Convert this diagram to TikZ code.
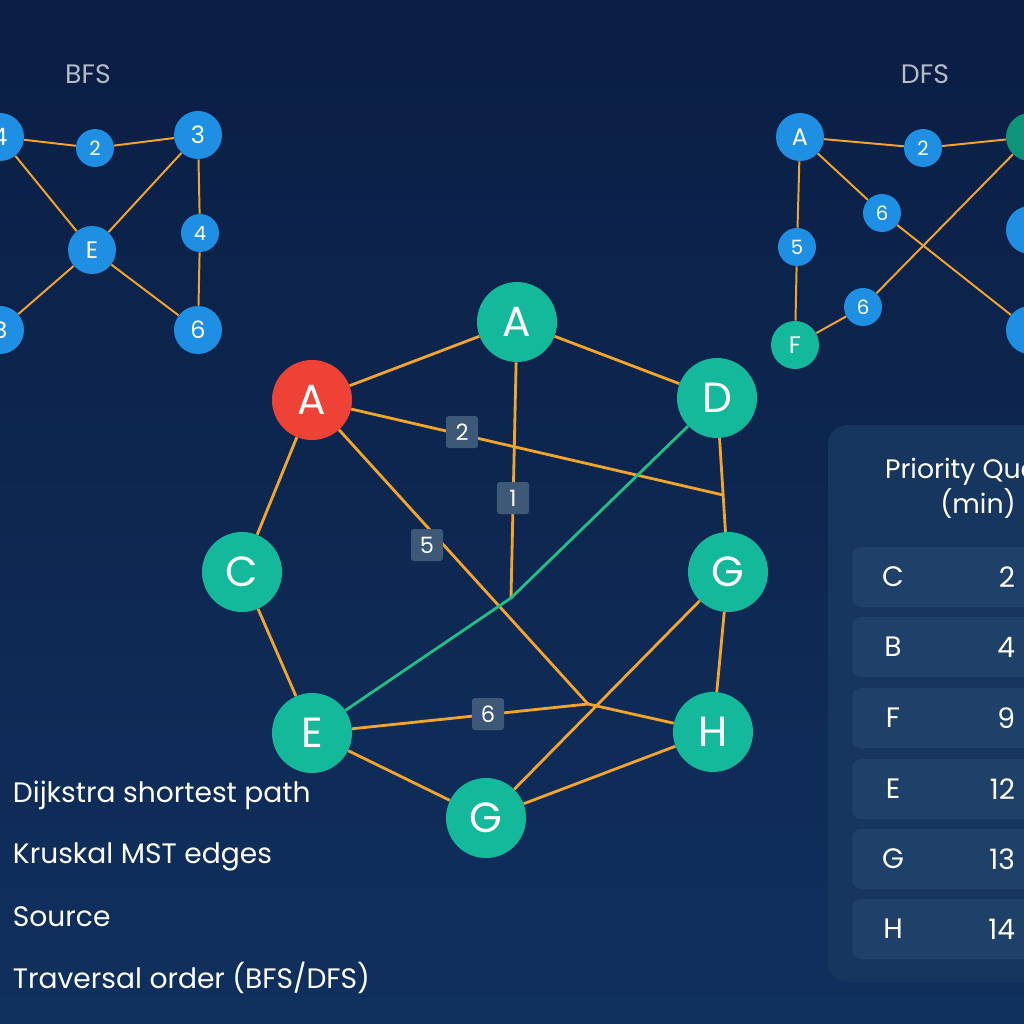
\documentclass[tikz,border=0pt]{standalone}
\usepackage{fontspec}
\setmainfont{Poppins}
\definecolor{bgtop}{HTML}{0B1E44}
\definecolor{bgbot}{HTML}{10305E}
\definecolor{teal}{HTML}{14B89A}
\definecolor{red}{HTML}{EE4236}
\definecolor{blue}{HTML}{1E8FE2}
\definecolor{edge}{HTML}{F2A52A}
\definecolor{path}{HTML}{1FBF86}
\definecolor{tag}{HTML}{3E5877}
\definecolor{panel}{HTML}{17365F}
\definecolor{row}{HTML}{1F4069}
\definecolor{title}{HTML}{B4BCC9}
\begin{document}
\begin{tikzpicture}[x=0.025cm, y=-0.025cm]
  \tikzstyle{main}=[circle, fill=teal, minimum size=80*0.025cm, inner sep=0pt, text=white, font=\fontsize{30}{33}\selectfont]
  \tikzstyle{big}=[circle, fill=blue, minimum size=48*0.025cm, inner sep=0pt, text=white, font=\fontsize{17}{19}\selectfont]
  \tikzstyle{small}=[circle, fill=blue, minimum size=38*0.025cm, inner sep=0pt, text=white, font=\fontsize{14}{16}\selectfont]
  \tikzstyle{tag}=[rounded corners=2pt, fill=tag, minimum size=32*0.025cm, inner sep=0pt, text=white, font=\fontsize{16}{18}\selectfont]
  \tikzstyle{link}=[draw=edge, line width=2pt]
  \tikzstyle{thin}=[draw=edge, line width=1.4pt]
  \tikzstyle{legend}=[anchor=west, text=white, font=\fontsize{20}{24}\selectfont]
  \tikzstyle{row}=[rounded corners=6pt, fill=row, minimum width=180*0.025cm, minimum height=60*0.025cm]
  \tikzstyle{cell}=[text=white, font=\fontsize{20}{24}\selectfont]

  \useasboundingbox (0,0) rectangle (1024,1024);
  \shade[top color=bgtop, bottom color=bgbot] (0,0) rectangle (1024,1024);

  % BFS
  \node[text=title, font=\fontsize{19}{22}\selectfont] (bfs) at (88, 74) {BFS};
  \node[big]   (b1) at (0,   137) {4};
  \node[small] (b2) at (95,  148) {2};
  \node[big]   (b3) at (198, 135) {3};
  \node[big]   (b4) at (92,  250) {E};
  \node[small] (b5) at (200, 233) {4};
  \node[big]   (b6) at (0,   330) {B};
  \node[big]   (b7) at (198, 330) {6};

  \path[thin] (b1) edge (b2);
  \path[thin] (b2) edge (b3);
  \path[thin] (b1) edge (b4);
  \path[thin] (b3) edge (b4);
  \path[thin] (b3) edge (b5);
  \path[thin] (b5) edge (b7);
  \path[thin] (b4) edge (b6);
  \path[thin] (b4) edge (b7);

  % DFS
  \node[text=title, font=\fontsize{19}{22}\selectfont] (dfs) at (925, 74) {DFS};
  \node[big]   (d1) at (800,  137) {A};
  \node[small] (d2) at (923,  148) {2};
  \node[big, fill=teal!80!black] (d3) at (1030, 137) {3};
  \node[small] (d4) at (882,  213) {6};
  \node[small] (d5) at (797,  247) {5};
  \node[small] (d6) at (863,  307) {6};
  \node[big, fill=teal] (d7) at (795, 345) {F};
  \node[big]   (d8) at (1030, 230) {6};
  \node[big]   (d9) at (1030, 330) {6};

  \path[thin] (d1) edge (d2);
  \path[thin] (d2) edge (d3);
  \path[thin] (d1) edge (d4);
  \path[thin] (d4) edge (d9);
  \path[thin] (d1) edge (d5);
  \path[thin] (d5) edge (d7);
  \path[thin] (d7) edge (d6);
  \path[thin] (d6) edge (d3);

  % main graph
  \node[main, fill=red] (s) at (312, 400) {A};
  \node[main] (a) at (517, 322) {A};
  \node[main] (d) at (717, 398) {D};
  \node[main] (c) at (242, 572) {C};
  \node[main] (g) at (728, 572) {G};
  \node[main] (e) at (312, 733) {E};
  \node[main] (h) at (713, 732) {H};
  \node[main] (k) at (486, 818) {G};
  \coordinate (p) at (723, 495);
  \coordinate (q) at (511, 598);
  \coordinate (r) at (588, 704);

  \path[link] (s) edge (a);
  \path[link] (a) edge (d);
  \path[link] (s) edge (c);
  \path[link] (c) edge (e);
  \path[link] (e) edge (k);
  \path[link] (k) edge (h);
  \path[link] (h) edge (g);
  \path[link] (g) edge (d);
  \path[link] (s) edge (p);
  \path[link] (s) edge (r);
  \path[link] (r) edge (h);
  \path[link] (a) edge (q);
  \path[link] (e) edge (r);
  \path[link] (k) edge (g);
  \draw[draw=path, line width=2pt] (e) -- (q) -- (d);

  \node[tag] (w2) at (462, 432) {2};
  \node[tag] (w1) at (513, 498) {1};
  \node[tag] (w5) at (427, 545) {5};
  \node[tag] (w6) at (488, 714) {6};

  % legend
  \node[legend] (l1) at (8, 795) {Dijkstra shortest path};
  \node[legend] (l2) at (8, 857) {Kruskal MST edges};
  \node[legend] (l3) at (8, 917) {Source};
  \node[legend] (l4) at (8, 978) {Traversal order (BFS/DFS)};

  % priority queue
  \fill[panel, rounded corners=14pt] (828, 425) rectangle (1060, 982);
  \node[cell, align=center, font=\fontsize{19}{25}\selectfont] (pq) at (978, 488) {Priority Queue\\(min)};
  \foreach \y/\v/\n [count=\i] in {577/C/2, 647/B/4, 718/F/9, 789/E/12, 859/G/13, 929/H/14} {
    \node[row, anchor=west] (r\i) at (852, \y) {};
    \node[cell] (k\i) at (893, \y) {\v};
    \node[cell, anchor=east] (v\i) at (1020, \y) {\n};
  }
\end{tikzpicture}
\end{document}
